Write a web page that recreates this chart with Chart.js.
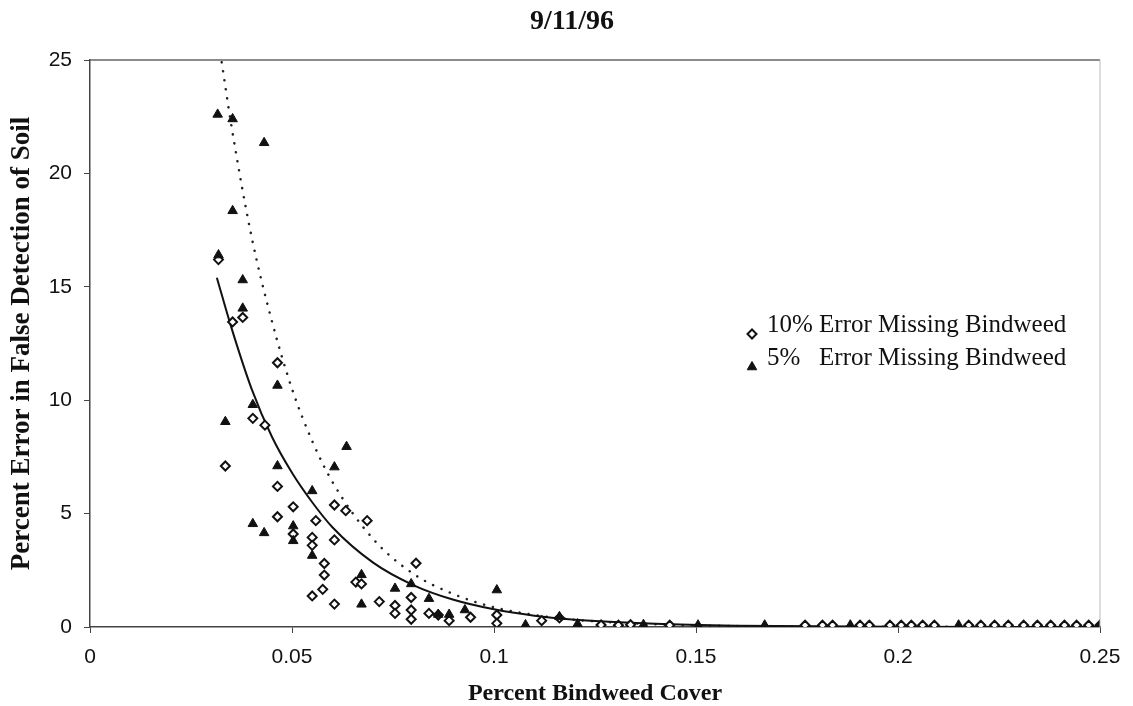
<!DOCTYPE html>
<html>
<head>
<meta charset="utf-8">
<title>9/11/96</title>
<script src="https://cdn.jsdelivr.net/npm/chart.js@4.4.0/dist/chart.umd.min.js"></script>
<style>
  html, body { margin: 0; padding: 0; background: #fff; }
  #wrap { width: 1133px; height: 706px; }
</style>
</head>
<body>
<div id="wrap"><canvas id="bindweedChart" width="1133" height="706"></canvas></div>
<script>
// Values

const chartTitle = '9/11/96';
const xAxisTitle = 'Percent Bindweed Cover';
const yAxisTitle = 'Percent Error in False Detection of Soil';
const legendLabels = ['10% Error Missing Bindweed', '5%   Error Missing Bindweed'];

const xTicks = [0, 0.05, 0.1, 0.15, 0.2, 0.25];
const yTicks = [0, 5, 10, 15, 20, 25];

// 10% error missing bindweed (open diamonds)
const tenCover = [
    0.0318, 0.0353, 0.0378, 0.0464, 0.0403, 0.0433, 0.0335, 0.0464, 0.0503, 0.0605,
    0.0633, 0.0686, 0.0464, 0.0559, 0.0503, 0.055, 0.055, 0.0605, 0.058, 0.058,
    0.0576, 0.055, 0.0605, 0.0658, 0.0672, 0.0716, 0.0807, 0.0755, 0.0755, 0.0795,
    0.0795, 0.0795, 0.0839, 0.0862, 0.0889, 0.0942, 0.1007, 0.1007, 0.1118, 0.1162,
    0.1265, 0.1308, 0.1338, 0.1435, 0.177, 0.1813, 0.1838, 0.1906, 0.1929, 0.198,
    0.2008, 0.2033, 0.2061, 0.209, 0.2175, 0.2205, 0.2239, 0.2273, 0.2311, 0.2345,
    0.2378, 0.2412, 0.2442, 0.2472, 0.25
];
const tenError = [
    16.2, 13.45, 13.65, 11.65, 9.2, 8.9, 7.1, 6.2, 5.3, 5.38,
    5.13, 4.69, 4.86, 4.69, 4.1, 3.95, 3.6, 3.84, 2.8, 2.29,
    1.66, 1.37, 1.01, 1.98, 1.9, 1.12, 2.81, 0.95, 0.6, 1.3,
    0.75, 0.34, 0.6, 0.53, 0.28, 0.43, 0.53, 0.16, 0.28, 0.4,
    0.09, 0.08, 0.1, 0.08, 0.08, 0.08, 0.08, 0.08, 0.08, 0.08,
    0.08, 0.08, 0.08, 0.08, 0.08, 0.08, 0.08, 0.08, 0.08, 0.08,
    0.08, 0.08, 0.08, 0.08, 0.08
];

// 5% error missing bindweed (filled triangles)
const fiveCover = [
    0.0316, 0.0353, 0.0431, 0.0353, 0.0318, 0.0378, 0.0378, 0.0464, 0.0403, 0.0335,
    0.0464, 0.0605, 0.0635, 0.055, 0.0403, 0.0431, 0.0503, 0.0503, 0.055, 0.0672,
    0.0672, 0.0795, 0.0755, 0.0839, 0.0862, 0.0889, 0.0928, 0.1007, 0.1078, 0.1162,
    0.1207, 0.137, 0.1505, 0.167, 0.1882, 0.215, 0.25
];
const fiveError = [
    22.6, 22.4, 21.35, 18.35, 16.4, 15.3, 14.05, 10.65, 9.8, 9.05,
    7.1, 7.05, 7.95, 6.0, 4.55, 4.15, 4.45, 3.8, 3.15, 2.3,
    1.0, 1.9, 1.7, 1.25, 0.55, 0.55, 0.75, 1.63, 0.09, 0.45,
    0.13, 0.1, 0.08, 0.08, 0.08, 0.08, 0.08
];

// trend curves
const tenTrendCover = [0.0314, 0.035, 0.04, 0.045, 0.05, 0.055, 0.06, 0.07, 0.08, 0.09, 0.1, 0.11, 0.12, 0.14, 0.16, 0.2, 0.25];
const tenTrendError = [15.4, 13.2, 10.5, 8.4, 6.8, 5.5, 4.4, 2.85, 1.85, 1.2, 0.78, 0.5, 0.32, 0.14, 0.06, 0.01, 0];
const fiveTrendCover = [0.0326, 0.035, 0.04, 0.045, 0.05, 0.055, 0.06, 0.07, 0.08, 0.09, 0.1, 0.11, 0.12, 0.14, 0.16, 0.2, 0.25];
const fiveTrendError = [24.9, 22.1, 17.2, 13.5, 10.5, 8.2, 6.4, 3.9, 2.35, 1.45, 0.87, 0.53, 0.32, 0.12, 0.04, 0.01, 0];

// Utility: zip two arrays into {x, y} points
function pairs(xs, ys) {
    return xs.map((x, i) => ({ x: x, y: ys[i] }));
}

// Title, legend and the plot frame (top and right edges)
const decorations = {
    id: 'decorations',
    afterDraw(chart) {
        const ctx = chart.ctx;
        const a = chart.chartArea;
        ctx.save();

        ctx.strokeStyle = '#666';
        ctx.lineWidth = 1.5;
        ctx.beginPath();
        ctx.moveTo(a.left, a.top);
        ctx.lineTo(a.right, a.top);
        ctx.stroke();
        ctx.strokeStyle = '#bbb';
        ctx.lineWidth = 1;
        ctx.beginPath();
        ctx.moveTo(a.right, a.top);
        ctx.lineTo(a.right, a.bottom);
        ctx.stroke();

        ctx.fillStyle = '#111';
        ctx.font = 'bold 28px "Liberation Serif", "Times New Roman", serif';
        ctx.textAlign = 'center';
        ctx.textBaseline = 'middle';
        ctx.fillText(chartTitle, 572, 22);

        // legend entries
        const rows = [
            { ds: 0, markerY: 334, textY: 325 },
            { ds: 1, markerY: 367, textY: 358 }
        ];
        ctx.font = '25px "Liberation Serif", "Times New Roman", serif';
        ctx.textAlign = 'left';
        rows.forEach(row => {
            const ds = chart.data.datasets[row.ds];
            ctx.fillStyle = ds.backgroundColor;
            ctx.strokeStyle = ds.borderColor;
            ctx.lineWidth = ds.borderWidth;
            Chart.helpers.drawPoint(ctx, {
                pointStyle: ds.pointStyle,
                radius: ds.pointRadius,
                borderWidth: ds.borderWidth,
                rotation: 0
            }, 752, row.markerY);
            ctx.fillStyle = '#111';
            ctx.fillText(legendLabels[row.ds], 767, row.textY);
        });

        ctx.restore();
    }
};

const axisColor = '#444';
const tickFont = { family: '"Liberation Sans", Arial, sans-serif', size: 21 };
const titleFont = (size) => ({ family: '"Liberation Serif", "Times New Roman", serif', size: size, weight: 'bold', lineHeight: 1 });

const ctx = document.getElementById('bindweedChart').getContext('2d');
new Chart(ctx, {
    type: 'scatter',
    data: {
        datasets: [
            {
                label: legendLabels[0],
                data: pairs(tenCover, tenError),
                pointStyle: 'rectRot',
                pointRadius: 4.5,
                borderWidth: 2,
                borderColor: '#111',
                backgroundColor: '#fff',
                order: 2
            },
            {
                label: legendLabels[1],
                data: pairs(fiveCover, fiveError),
                pointStyle: 'triangle',
                pointRadius: 5.5,
                borderWidth: 1,
                borderColor: '#111',
                backgroundColor: '#111',
                order: 1
            },
            {
                type: 'line',
                label: '10% trend',
                data: pairs(tenTrendCover, tenTrendError),
                borderColor: '#111',
                borderWidth: 2,
                pointRadius: 0,
                fill: false,
                cubicInterpolationMode: 'monotone',
                order: 3
            },
            {
                type: 'line',
                label: '5% trend',
                data: pairs(fiveTrendCover, fiveTrendError),
                borderColor: '#222',
                borderWidth: 2.5,
                borderDash: [0.1, 9],
                borderCapStyle: 'round',
                pointRadius: 0,
                fill: false,
                cubicInterpolationMode: 'monotone',
                order: 4
            }
        ]
    },
    options: {
        responsive: false,
        animation: false,
        layout: { padding: { top: 60, right: 33, left: 0, bottom: 0 } },
        plugins: {
            legend: { display: false },
            title: { display: false },
            tooltip: { enabled: false }
        },
        scales: {
            x: {
                type: 'linear',
                min: 0,
                max: 0.25,
                afterBuildTicks: scale => { scale.ticks = xTicks.map(v => ({ value: v })); },
                afterFit: scale => { scale.height = 79; },
                grid: { drawOnChartArea: false, drawTicks: true, tickLength: 6, color: axisColor },
                border: { display: true, color: axisColor, width: 1.5 },
                ticks: { padding: 12, color: '#111', font: tickFont, maxRotation: 0, callback: v => String(v) },
                title: { display: true, text: xAxisTitle, color: '#111', font: titleFont(24), padding: { top: 0, bottom: 0 } }
            },
            y: {
                type: 'linear',
                min: 0,
                max: 25,
                afterBuildTicks: scale => { scale.ticks = yTicks.map(v => ({ value: v })); },
                afterFit: scale => { scale.width = 90; },
                grid: { drawOnChartArea: false, drawTicks: true, tickLength: 6, color: axisColor },
                border: { display: true, color: axisColor, width: 1.5 },
                ticks: { padding: 12, color: '#111', font: tickFont, callback: v => String(v) },
                title: { display: true, text: yAxisTitle, color: '#111', font: titleFont(27), padding: { top: 9, bottom: 0 } }
            }
        }
    },
    plugins: [decorations]
});
</script>
</body>
</html>
